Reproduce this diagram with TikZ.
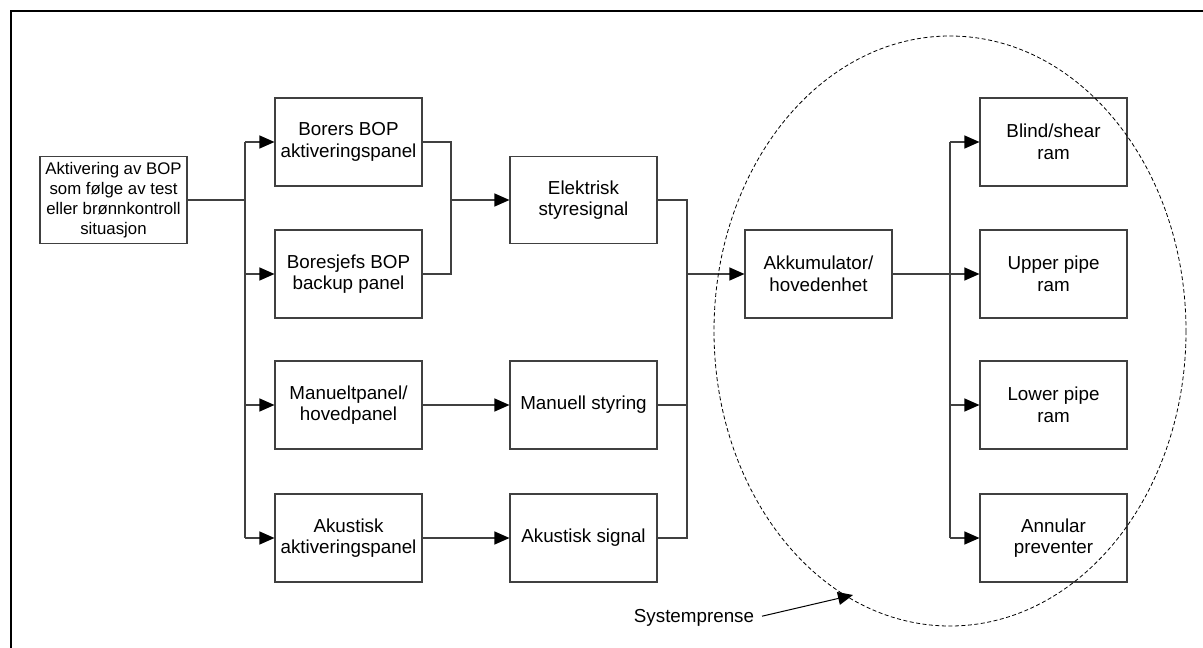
\documentclass[tikz,border=0pt]{standalone}
\usepackage{fontspec}
\setmainfont{Liberation Sans}
\usetikzlibrary{arrows.meta}
\begin{document}
\begin{tikzpicture}[x=1pt,y=-1pt,
  box/.style={draw=black!75,line width=1.1pt,rectangle,minimum width=147pt,minimum height=88pt,
    align=center,inner sep=2pt,font=\fontsize{18.8}{21.5}\selectfont},
  link/.style={draw=black!75,line width=1.1pt},
  arr/.style={link,-{Triangle[length=15pt,width=13pt,color=black]}},
  limit/.style={draw=black,line width=0.8pt,dash pattern=on 4pt off 2.5pt}]
\useasboundingbox (0,0) rectangle (1203,648);
% outer frame (only the left and top edges fall on the page)
\draw[line width=1.5pt] (11,648) -- (11,11) -- (1203,11);

% starting event
\node[box,minimum height=87pt,font=\fontsize{16.8}{20}\selectfont] (start) at (113.5,200)
  {Aktivering av BOP\\som følge av test\\eller brønnkontroll\\situasjon};

% activation panels
\node[box] (b1) at (348.5,142) {Borers BOP\\aktiveringspanel};
\node[box] (b2) at (348.5,274) {Boresjefs BOP\\backup panel};
\node[box] (b3) at (348.5,405) {Manueltpanel/\\hovedpanel};
\node[box] (b4) at (348.5,538) {Akustisk\\aktiveringspanel};

% signals
\node[box,minimum height=87pt] (elek) at (583.5,200) {Elektrisk\\styresignal};
\node[box] (man) at (583.5,405) {Manuell styring};
\node[box] (aku) at (583.5,538) {Akustisk signal};

% accumulator
\node[box] (akk) at (818.5,274) {Akkumulator/\\hovedenhet};

% rams
\node[box] (r1) at (1053.5,142) {Blind/shear\\ram};
\node[box] (r2) at (1053.5,274) {Upper pipe\\ram};
\node[box] (r3) at (1053.5,405) {Lower pipe\\ram};
\node[box] (r4) at (1053.5,538) {Annular\\preventer};

% bus coordinates
\coordinate (busA) at (245,200);
\coordinate (mA) at (451,200);
\coordinate (mB) at (687,274);
\coordinate (busC) at (950,274);

% start -> panels
\draw[link] (start.east) -- (busA);
\draw[link] (b1 -| busA) -- (b4 -| busA);
\draw[arr] (b1 -| busA) -- (b1.west);
\draw[arr] (b2 -| busA) -- (b2.west);
\draw[arr] (b3 -| busA) -- (b3.west);
\draw[arr] (b4 -| busA) -- (b4.west);

% panels -> signals
\draw[link] (b1.east) -| (mA) |- (b2.east);
\draw[arr] (mA) -- (elek.west);
\draw[arr] (b3.east) -- (man.west);
\draw[arr] (b4.east) -- (aku.west);

% signals -> accumulator
\draw[link] (elek.east) -| (mB) |- (aku.east);
\draw[link] (man.east) -- (man.east -| mB);
\draw[arr] (mB) -- (akk.west);

% accumulator -> rams
\draw[link] (r1 -| busC) -- (r4 -| busC);
\draw[arr] (akk.east) -- (r2.west);
\draw[arr] (r1 -| busC) -- (r1.west);
\draw[arr] (r3 -| busC) -- (r3.west);
\draw[arr] (r4 -| busC) -- (r4.west);

% system boundary
\draw[limit] (950,331) ellipse [x radius=236, y radius=295];
\node[font=\fontsize{18.8}{21.5}\selectfont,inner sep=0pt] (sp) at (694,618) {Systemprense};
\coordinate (spt) at (853,595);
\draw[arr,draw=black,line width=1pt,shorten <=8pt] (sp.east) -- (spt);
\end{tikzpicture}
\end{document}
